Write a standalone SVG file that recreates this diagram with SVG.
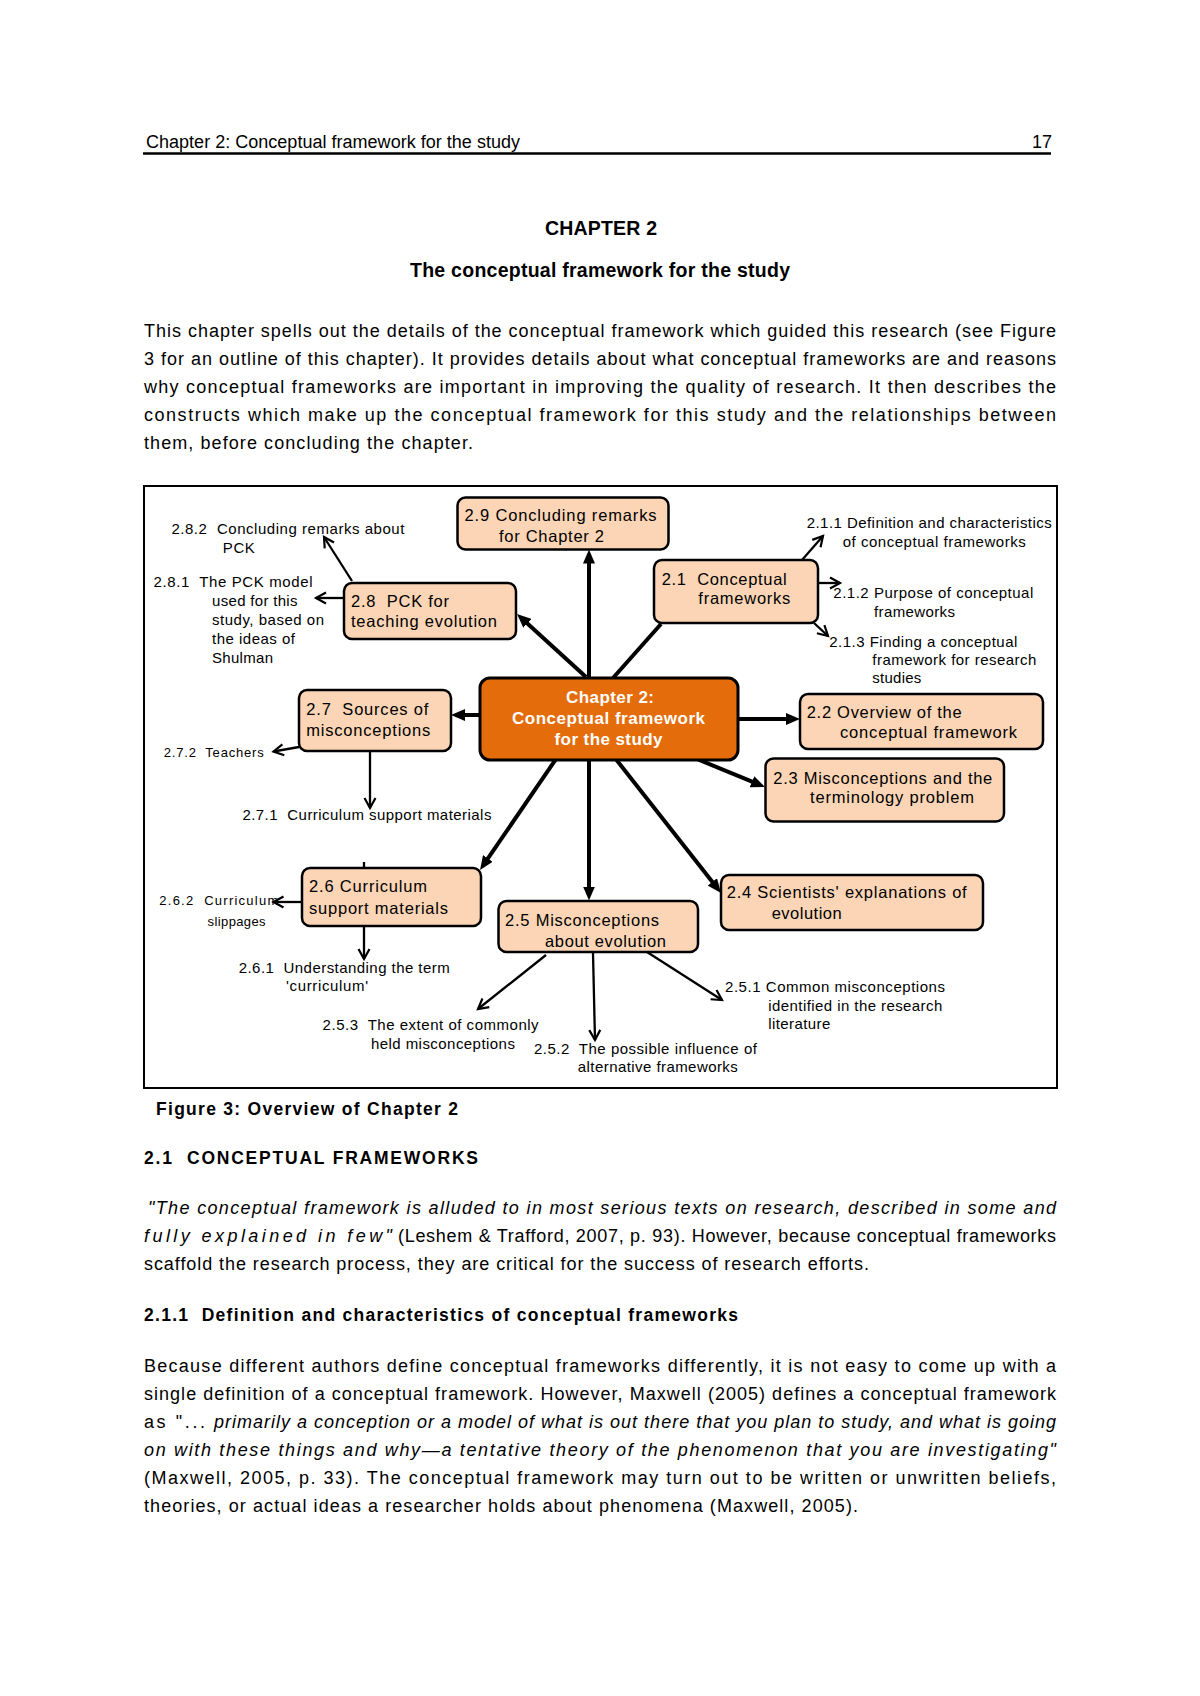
<svg xmlns="http://www.w3.org/2000/svg" width="1200" height="1696" viewBox="0 0 1200 1696">
<style>
text{font-family:"Liberation Sans",Arial,sans-serif;fill:#000}
.b{font-size:18px}
.it{font-size:18px;font-style:italic}
.hd{font-size:17.5px;font-weight:bold}
.ti{font-size:19.5px;font-weight:bold}
.lbl{font-size:16.5px}
.sm{font-size:15px}
.xs{font-size:13px}
.core-t{font-size:17px;font-weight:bold;fill:#fff}
.box{fill:#FBD5B5;stroke:#000;stroke-width:2.5}
.core{fill:#E46C0A;stroke:#000;stroke-width:3}
.main{stroke:#000;stroke-width:4;fill:none}
.sub{stroke:#000;stroke-width:2.3;fill:none}
</style>
<defs>
<marker id="fa" viewBox="0 0 14 12" refX="4" refY="6" markerWidth="14" markerHeight="12" markerUnits="userSpaceOnUse" orient="auto"><path d="M0,0 L14,6 L0,12 z" fill="#000"/></marker>
<marker id="oa" viewBox="0 0 12 12" refX="11" refY="6" markerWidth="12" markerHeight="12" markerUnits="userSpaceOnUse" orient="auto" overflow="visible"><path d="M1,0.5 L11,6 L1,11.5" fill="none" stroke="#000" stroke-width="2.2"/></marker>
</defs>
<rect width="1200" height="1696" fill="#fff"/>

<g id="page-header">
<text class="b" x="146" y="148" textLength="374" lengthAdjust="spacing">Chapter 2: Conceptual framework for the study</text>
<text class="b" x="1052" y="148" text-anchor="end">17</text>
<line x1="143" y1="153.5" x2="1051" y2="153.5" stroke="#000" stroke-width="2.5"/>
</g>

<g id="title">
<text class="ti" x="601" y="235" text-anchor="middle" textLength="112" lengthAdjust="spacing">CHAPTER 2</text>
<text class="ti" x="600" y="276.5" text-anchor="middle" textLength="380" lengthAdjust="spacing">The conceptual framework for the study</text>
</g>

<g id="intro">
<text class="b" x="144" y="337" textLength="912" lengthAdjust="spacing">This chapter spells out the details of the conceptual framework which guided this research (see Figure</text>
<text class="b" x="144" y="365" textLength="912" lengthAdjust="spacing">3 for an outline of this chapter). It provides details about what conceptual frameworks are and reasons</text>
<text class="b" x="144" y="393" textLength="912" lengthAdjust="spacing">why conceptual frameworks are important in improving the quality of research. It then describes the</text>
<text class="b" x="144" y="421" textLength="912" lengthAdjust="spacing">constructs which make up the conceptual framework for this study and the relationships between</text>
<text class="b" x="144" y="449" textLength="329" lengthAdjust="spacing">them, before concluding the chapter.</text>
</g>

<rect id="figure-frame" x="144" y="486" width="913" height="602" fill="none" stroke="#000" stroke-width="2"/>

<g id="connectors">
<line class="main" x1="589" y1="678" x2="589" y2="559.5" marker-end="url(#fa)"/>
<line class="main" x1="586" y1="677" x2="524.4" y2="620.7" marker-end="url(#fa)"/>
<line class="main" x1="613" y1="678" x2="661" y2="624"/>
<line class="main" x1="480" y1="715" x2="461" y2="715" marker-end="url(#fa)"/>
<line class="main" x1="738" y1="719" x2="790" y2="719" marker-end="url(#fa)"/>
<line class="main" x1="697" y1="759" x2="755.7" y2="783.2" marker-end="url(#fa)"/>
<line class="main" x1="615" y1="758" x2="714.8" y2="885.1" marker-end="url(#fa)"/>
<line class="main" x1="589" y1="760" x2="589" y2="890.5" marker-end="url(#fa)"/>
<line class="main" x1="556" y1="759" x2="485.7" y2="861.7" marker-end="url(#fa)"/>

<line class="sub" x1="352" y1="581" x2="324" y2="537" marker-end="url(#oa)"/>
<line class="sub" x1="344" y1="598" x2="316" y2="598" marker-end="url(#oa)"/>
<line class="sub" x1="299" y1="747" x2="273.5" y2="751.5" marker-end="url(#oa)"/>
<line class="sub" x1="370" y1="752" x2="370" y2="808" marker-end="url(#oa)"/>
<line class="sub" x1="302" y1="902" x2="273.5" y2="902" marker-end="url(#oa)"/>
<line class="sub" x1="364" y1="927" x2="364" y2="959" marker-end="url(#oa)"/>
<line class="sub" x1="364" y1="862" x2="364" y2="868"/>
<line class="sub" x1="546" y1="955" x2="478" y2="1009" marker-end="url(#oa)"/>
<line class="sub" x1="593" y1="953" x2="595" y2="1040" marker-end="url(#oa)"/>
<line class="sub" x1="647" y1="952" x2="722" y2="1000" marker-end="url(#oa)"/>
<line class="sub" x1="802" y1="560" x2="823" y2="536" marker-end="url(#oa)"/>
<line class="sub" x1="819" y1="583" x2="840" y2="583" marker-end="url(#oa)"/>
<line class="sub" x1="814" y1="623" x2="828" y2="636" marker-end="url(#oa)"/>
</g>

<g id="node-core">
<rect class="core" x="480" y="678" width="258" height="82" rx="10"/>
<text class="core-t" x="610" y="703" text-anchor="middle" textLength="88" lengthAdjust="spacing">Chapter 2:</text>
<text class="core-t" x="608.5" y="724" text-anchor="middle" textLength="193" lengthAdjust="spacing">Conceptual framework</text>
<text class="core-t" x="608.5" y="745" text-anchor="middle" textLength="108" lengthAdjust="spacing">for the study</text>
</g>

<g id="node-2-9">
<rect class="box" x="457.5" y="497.5" width="211" height="52" rx="8"/>
<text class="lbl" x="464.5" y="520.6" textLength="192" lengthAdjust="spacing">2.9 Concluding remarks</text>
<text class="lbl" x="499" y="541.9" textLength="105" lengthAdjust="spacing">for Chapter 2</text>
</g>

<g id="node-2-8">
<rect class="box" x="344" y="583" width="172" height="56" rx="8"/>
<text class="lbl" x="351" y="606.8" textLength="98" lengthAdjust="spacing" xml:space="preserve">2.8  PCK for</text>
<text class="lbl" x="351" y="627" textLength="146" lengthAdjust="spacing">teaching evolution</text>
</g>

<g id="node-2-7">
<rect class="box" x="299" y="690" width="152" height="61" rx="8"/>
<text class="lbl" x="306.3" y="715" textLength="122" lengthAdjust="spacing" xml:space="preserve">2.7  Sources of</text>
<text class="lbl" x="306.3" y="736.3" textLength="124" lengthAdjust="spacing">misconceptions</text>
</g>

<g id="node-2-1">
<rect class="box" x="654" y="560" width="164" height="63" rx="8"/>
<text class="lbl" x="661.7" y="585" textLength="125" lengthAdjust="spacing" xml:space="preserve">2.1  Conceptual</text>
<text class="lbl" x="698.3" y="604" textLength="92" lengthAdjust="spacing">frameworks</text>
</g>

<g id="node-2-2">
<rect class="box" x="800" y="694" width="243" height="55" rx="8"/>
<text class="lbl" x="806.7" y="717.7" textLength="155" lengthAdjust="spacing">2.2 Overview of the</text>
<text class="lbl" x="840" y="737.7" textLength="177" lengthAdjust="spacing">conceptual framework</text>
</g>

<g id="node-2-3">
<rect class="box" x="765.5" y="758.5" width="238.5" height="63" rx="8"/>
<text class="lbl" x="773.3" y="783.5" textLength="219" lengthAdjust="spacing">2.3 Misconceptions and the</text>
<text class="lbl" x="810" y="803.3" textLength="164" lengthAdjust="spacing">terminology problem</text>
</g>

<g id="node-2-4">
<rect class="box" x="721" y="875" width="262" height="55" rx="8"/>
<text class="lbl" x="726.7" y="898.3" textLength="240" lengthAdjust="spacing">2.4 Scientists' explanations of</text>
<text class="lbl" x="771.7" y="919" textLength="70" lengthAdjust="spacing">evolution</text>
</g>

<g id="node-2-5">
<rect class="box" x="498.5" y="901" width="199.5" height="51" rx="8"/>
<text class="lbl" x="505.1" y="926.2" textLength="154" lengthAdjust="spacing">2.5 Misconceptions</text>
<text class="lbl" x="545" y="946.5" textLength="121" lengthAdjust="spacing">about evolution</text>
</g>

<g id="node-2-6">
<rect class="box" x="302" y="868" width="179" height="58" rx="8"/>
<text class="lbl" x="309" y="892.4" textLength="118" lengthAdjust="spacing">2.6 Curriculum</text>
<text class="lbl" x="309" y="913.7" textLength="139" lengthAdjust="spacing">support materials</text>
</g>

<g id="sub-2-8-2"><text class="sm" x="171.4" y="534" textLength="233" lengthAdjust="spacing" xml:space="preserve">2.8.2  Concluding remarks about</text><text class="sm" x="222.8" y="553" textLength="32" lengthAdjust="spacing">PCK</text></g>
<g id="sub-2-8-1"><text class="sm" x="153.5" y="586.5" textLength="159" lengthAdjust="spacing" xml:space="preserve">2.8.1  The PCK model</text><text class="sm" x="212" y="605.8" textLength="85.5" lengthAdjust="spacing">used for this</text><text class="sm" x="212" y="624.7" textLength="112" lengthAdjust="spacing">study, based on</text><text class="sm" x="212" y="644" textLength="83" lengthAdjust="spacing">the ideas of</text><text class="sm" x="212" y="662.6" textLength="61" lengthAdjust="spacing">Shulman</text></g>
<g id="sub-2-1-1"><text class="sm" x="806.7" y="528.3" textLength="245" lengthAdjust="spacing">2.1.1 Definition and characteristics</text><text class="sm" x="842.7" y="546.7" textLength="183" lengthAdjust="spacing">of conceptual frameworks</text></g>
<g id="sub-2-1-2"><text class="sm" x="833.3" y="598.3" textLength="200" lengthAdjust="spacing">2.1.2 Purpose of conceptual</text><text class="sm" x="874" y="616.7" textLength="81" lengthAdjust="spacing">frameworks</text></g>
<g id="sub-2-1-3"><text class="sm" x="829.3" y="646.7" textLength="188" lengthAdjust="spacing">2.1.3 Finding a conceptual</text><text class="sm" x="872.3" y="665" textLength="164" lengthAdjust="spacing">framework for research</text><text class="sm" x="872.3" y="683.3" textLength="49" lengthAdjust="spacing">studies</text></g>
<g id="sub-2-7-2"><text class="xs" x="163.7" y="756.5" textLength="100" lengthAdjust="spacing" xml:space="preserve">2.7.2  Teachers</text></g>
<g id="sub-2-7-1"><text class="sm" x="242.4" y="820" textLength="249" lengthAdjust="spacing" xml:space="preserve">2.7.1  Curriculum support materials</text></g>
<g id="sub-2-6-2"><text class="xs" x="159.3" y="904.5" textLength="119" lengthAdjust="spacing" xml:space="preserve">2.6.2  Curriculum</text><text class="xs" x="207.6" y="925.5" textLength="58" lengthAdjust="spacing">slippages</text></g>
<g id="sub-2-6-1"><text class="sm" x="238.7" y="972.8" textLength="211" lengthAdjust="spacing" xml:space="preserve">2.6.1  Understanding the term</text><text class="sm" x="286" y="991.4" textLength="82" lengthAdjust="spacing">'curriculum'</text></g>
<g id="sub-2-5-3"><text class="sm" x="322.6" y="1030.3" textLength="216" lengthAdjust="spacing" xml:space="preserve">2.5.3  The extent of commonly</text><text class="sm" x="370.9" y="1048.9" textLength="144" lengthAdjust="spacing">held misconceptions</text></g>
<g id="sub-2-5-2"><text class="sm" x="533.9" y="1054" textLength="223" lengthAdjust="spacing" xml:space="preserve">2.5.2  The possible influence of</text><text class="sm" x="577.8" y="1071.9" textLength="160" lengthAdjust="spacing">alternative frameworks</text></g>
<g id="sub-2-5-1"><text class="sm" x="725" y="991.7" textLength="220" lengthAdjust="spacing">2.5.1 Common misconceptions</text><text class="sm" x="768.3" y="1010.7" textLength="174" lengthAdjust="spacing">identified in the research</text><text class="sm" x="768.3" y="1029.3" textLength="62" lengthAdjust="spacing">literature</text></g>

<g id="caption">
<text class="hd" x="156" y="1115" textLength="302" lengthAdjust="spacing">Figure 3: Overview of Chapter 2</text>
</g>

<g id="section-2-1">
<text class="hd" x="144" y="1164" textLength="334" lengthAdjust="spacing" xml:space="preserve">2.1  CONCEPTUAL FRAMEWORKS</text>
<text class="it" x="148" y="1214" textLength="908" lengthAdjust="spacing">"The conceptual framework is alluded to in most serious texts on research, described in some and</text>
<text class="it" x="144" y="1242" textLength="248" lengthAdjust="spacing">fully explained in few"</text>
<text class="b" x="398" y="1242" textLength="658" lengthAdjust="spacing">(Leshem &amp; Trafford, 2007, p. 93). However, because conceptual frameworks</text>
<text class="b" x="144" y="1270" textLength="725" lengthAdjust="spacing">scaffold the research process, they are critical for the success of research efforts.</text>
</g>

<g id="section-2-1-1">
<text class="hd" x="144" y="1321" textLength="594" lengthAdjust="spacing" xml:space="preserve">2.1.1  Definition and characteristics of conceptual frameworks</text>
<text class="b" x="144" y="1372" textLength="912" lengthAdjust="spacing">Because different authors define conceptual frameworks differently, it is not easy to come up with a</text>
<text class="b" x="144" y="1400" textLength="912" lengthAdjust="spacing">single definition of a conceptual framework. However, Maxwell (2005) defines a conceptual framework</text>
<text class="b" x="144" y="1428" textLength="61" lengthAdjust="spacing">as "...</text>
<text class="it" x="214" y="1428" textLength="842" lengthAdjust="spacing">primarily a conception or a model of what is out there that you plan to study, and what is going</text>
<text class="it" x="144" y="1456" textLength="912" lengthAdjust="spacing">on with these things and why—a tentative theory of the phenomenon that you are investigating"</text>
<text class="b" x="144" y="1484" textLength="912" lengthAdjust="spacing">(Maxwell, 2005, p. 33). The conceptual framework may turn out to be written or unwritten beliefs,</text>
<text class="b" x="144" y="1512" textLength="714" lengthAdjust="spacing">theories, or actual ideas a researcher holds about phenomena (Maxwell, 2005).</text>
</g>
</svg>
